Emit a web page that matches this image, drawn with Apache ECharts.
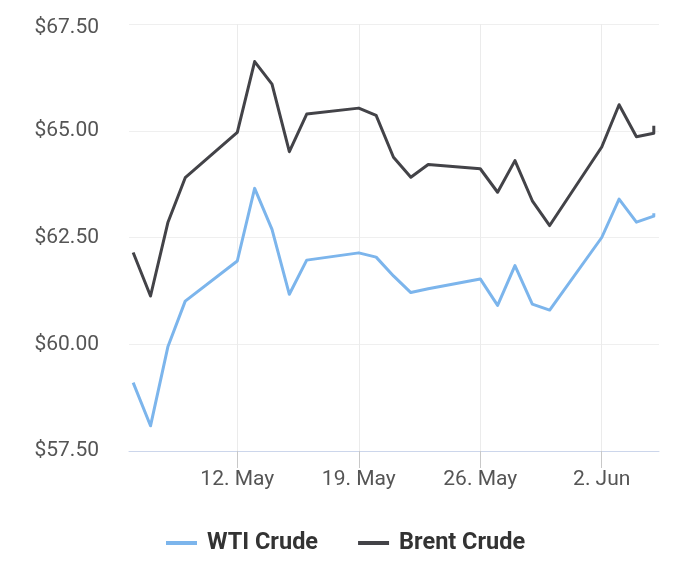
<!DOCTYPE html>
<html>
<head>
<meta charset="utf-8">
<script src="https://cdn.jsdelivr.net/npm/echarts@6/dist/echarts.min.js"></script>
<style>
html,body{margin:0;padding:0;background:#fff;}
#chart{width:700px;height:573px;}
</style>
</head>
<body>
<div id="chart"></div>
<script>
const dates = ['2025-05-06','2025-05-07','2025-05-08','2025-05-09','2025-05-12','2025-05-13','2025-05-14','2025-05-15','2025-05-16','2025-05-19','2025-05-20','2025-05-21','2025-05-22','2025-05-23','2025-05-26','2025-05-27','2025-05-28','2025-05-29','2025-05-30','2025-06-02','2025-06-03','2025-06-04','2025-06-05','2025-06-05'];
const wti   = [59.10,58.09,59.94,61.01,61.95,63.65,62.69,61.17,61.97,62.14,62.04,61.60,61.21,61.30,61.53,60.91,61.84,60.94,60.80,62.50,63.40,62.86,63.00,63.07];
const brent = [62.15,61.13,62.85,63.90,64.96,66.62,66.09,64.51,65.39,65.53,65.36,64.38,63.91,64.21,64.11,63.56,64.30,63.36,62.78,64.62,65.61,64.86,64.94,65.12];
const xTickDates = ['2025-05-12','2025-05-19','2025-05-26','2025-06-02'];
const yTicks = [57.5, 60, 62.5, 65, 67.5];
const seriesNames = ['WTI Crude','Brent Crude'];

const DAY = 86400000;
const t = s => Date.parse(s);
const months = ['Jan','Feb','Mar','Apr','May','Jun','Jul','Aug','Sep','Oct','Nov','Dec'];
const xTicks = xTickDates.map(t);
const yMax = yTicks[yTicks.length - 1];

const chart = echarts.init(document.getElementById('chart'), null, {renderer:'canvas'});
chart.setOption({
  animation: false,
  textStyle: {fontFamily: 'Roboto'},
  grid: {left: 129, right: 41, top: 24, bottom: 122, containLabel: false},
  legend: {
    left: 161, top: 526,
    icon: 'rect', itemWidth: 31, itemHeight: 4, itemGap: 40,
    textStyle: {fontFamily: 'Roboto', fontWeight: 'bold', fontSize: 23.5, lineHeight: 24, color: '#333333', padding: [0,0,0,5]},
    data: seriesNames
  },
  xAxis: {
    type: 'value',
    min: t('2025-05-12') - 6.24*DAY,
    max: t('2025-06-02') + 3.30*DAY,
    axisLine: {lineStyle: {color: '#ccd6eb', width: 1}},
    axisTick: {show: true, length: 17, customValues: xTicks, lineStyle: {color: '#c8c8c8'}},
    axisLabel: {
      customValues: xTicks, margin: 18, fontSize: 21, color: '#555555', fontFamily: 'Roboto',
      formatter: v => { const d = new Date(v); return d.getUTCDate() + '. ' + months[d.getUTCMonth()]; }
    },
    splitLine: {show: true, lineStyle: {color: '#ebebeb', width: 1}}
  },
  yAxis: {
    type: 'value', min: yTicks[0], max: yMax, interval: 2.5,
    axisLine: {show: false}, axisTick: {show: false},
    axisLabel: {
      margin: 30, fontSize: 21, color: '#555555', fontFamily: 'Roboto',
      formatter: v => (Math.abs(v - yMax) < 1e-9 ? '{sp| }\n{top|$' + v.toFixed(2) + '}' : '$' + v.toFixed(2)),
      rich: {
        sp: {fontSize: 6, lineHeight: 8, color: 'rgba(0,0,0,0)'},
        top: {fontSize: 21, lineHeight: 25, color: '#555555', fontFamily: 'Roboto'}
      }
    },
    splitLine: {show: true, lineStyle: {color: '#efefef', width: 1}}
  },
  series: [
    {name: seriesNames[0], type: 'line', showSymbol: false, symbol: 'none', color: '#7cb5ec',
     lineStyle: {width: 3, color: '#7cb5ec', join: 'round'}, emphasis: {disabled: true},
     data: dates.map((d,i) => [t(d), wti[i]])},
    {name: seriesNames[1], type: 'line', showSymbol: false, symbol: 'none', color: '#434348',
     lineStyle: {width: 3, color: '#434348', join: 'round'}, emphasis: {disabled: true},
     data: dates.map((d,i) => [t(d), brent[i]])}
  ]
});
</script>
</body>
</html>
